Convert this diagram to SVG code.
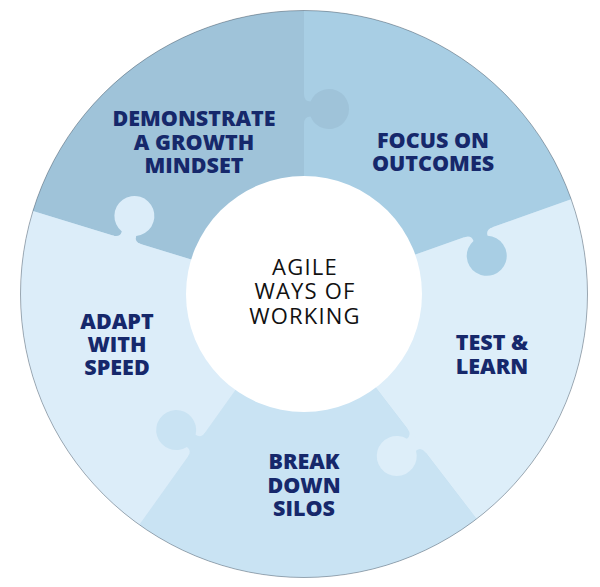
<svg xmlns="http://www.w3.org/2000/svg" width="600" height="587" viewBox="0 0 600 587">
<style>
.lbl{font-family:"Open Sans","Noto Sans","Liberation Sans",sans-serif;font-weight:800;font-size:21.5px;fill:#16286b;text-anchor:middle}
.ctr{font-family:"Open Sans","Noto Sans","Liberation Sans",sans-serif;font-weight:400;font-size:22px;fill:#111111;text-anchor:middle;letter-spacing:1.2px}
.dem{fill:#9fc3d9}.foc{fill:#a8cee4}.tst{fill:#ddeef9}.brk{fill:#c9e3f3}.adp{fill:#dcedf9}
</style>
<defs>
<path id="knob" d="M170,-1 L170,0 Q177.5,0 177.5,6.5 A20,20 0 1 0 192.5,6.5 Q192.5,0 200,0 L200,-1 Z"/>
</defs>
<rect width="600" height="587" fill="#ffffff"/>
<circle cx="304" cy="294" r="283.5" fill="#c2dced"/>
<g id="demonstrate">
<path class="dem" d="M304,294 L32.89,211.11 A283.5,283.5 0 0 1 304,10.5 Z"/>
</g>
<g id="focus">
<path class="foc" d="M304,294 L304,10.5 A283.5,283.5 0 0 1 571.24,199.37 Z"/>
</g>
<g id="test">
<path class="tst" d="M304,294 L571.24,199.37 A283.5,283.5 0 0 1 476.58,518.91 Z"/>
</g>
<g id="break">
<path class="brk" d="M304,294 L476.58,518.91 A283.5,283.5 0 0 1 139.37,524.80 Z"/>
</g>
<g id="adapt">
<path class="adp" d="M304,294 L139.37,524.80 A283.5,283.5 0 0 1 32.89,211.11 Z"/>
</g>
<g id="knobs">
<use href="#knob" class="dem" transform="translate(304 294) rotate(270)"/>
<use href="#knob" class="foc" transform="translate(304 294) rotate(340.5)"/>
<use href="#knob" class="tst" transform="translate(304 294) rotate(52.5)"/>
<use href="#knob" class="brk" transform="translate(304 294) rotate(125.5)"/>
<use href="#knob" class="adp" transform="translate(304 294) rotate(197)"/>
</g>
<circle cx="304" cy="294" r="283.5" fill="none" stroke="#3a4450" stroke-width="0.6" stroke-opacity="0.7"/>
<g id="center">
<circle cx="304" cy="294" r="118" fill="#ffffff"/>
<text class="ctr" x="305" y="274.5">AGILE</text>
<text class="ctr" x="305" y="298.5">WAYS OF</text>
<text class="ctr" x="305" y="323.5">WORKING</text>
</g>
<g id="labels">
<text class="lbl" x="194" y="126">DEMONSTRATE</text>
<text class="lbl" x="194" y="149.5">A GROWTH</text>
<text class="lbl" x="194" y="173">MINDSET</text>
<text class="lbl" x="433" y="148">FOCUS ON</text>
<text class="lbl" x="433" y="171">OUTCOMES</text>
<text class="lbl" x="492" y="350">TEST &amp;</text>
<text class="lbl" x="492" y="374">LEARN</text>
<text class="lbl" x="304" y="469">BREAK</text>
<text class="lbl" x="304" y="492.5">DOWN</text>
<text class="lbl" x="304" y="516">SILOS</text>
<text class="lbl" x="117" y="329">ADAPT</text>
<text class="lbl" x="117" y="352">WITH</text>
<text class="lbl" x="117" y="375">SPEED</text>
</g>
</svg>
